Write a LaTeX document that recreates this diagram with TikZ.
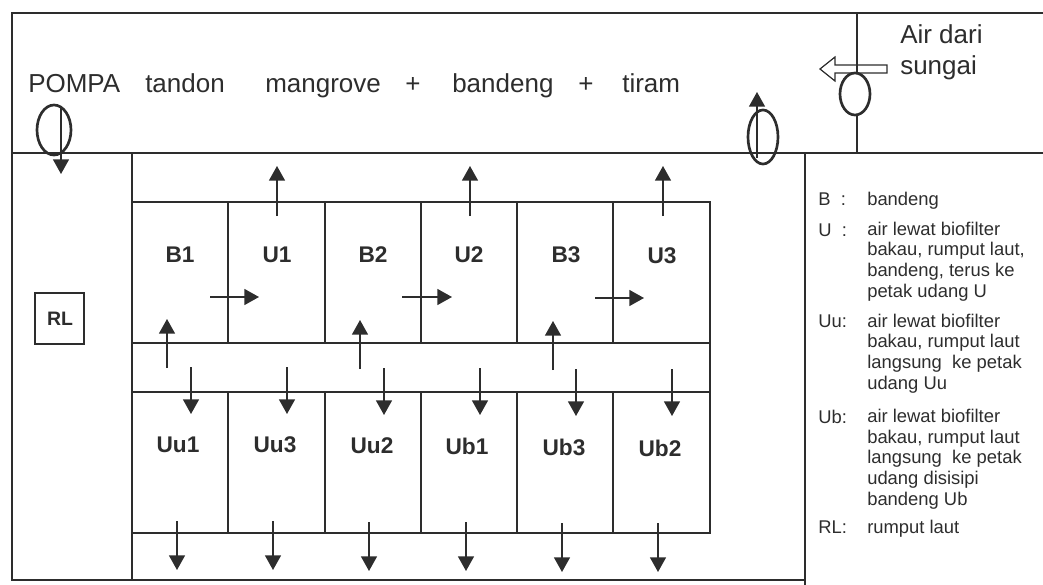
\documentclass[tikz,border=0pt]{standalone}
\usepackage{fontspec}
\setmainfont{Liberation Sans}
\usetikzlibrary{arrows.meta}
\definecolor{ink}{RGB}{45,45,45}
\tikzset{
  frame/.style={draw=ink,line width=0.9pt},
  pond/.style={draw=ink,line width=1.9pt},
  flow/.style={draw=ink,line width=1.1pt,-{Triangle[length=11pt,width=12pt]}},
  pump/.style={draw=ink,line width=2pt},
  maintext/.style={text=ink,font=\fontsize{19.5}{23}\selectfont,inner sep=0pt},
  pondlabel/.style={text=ink,font=\fontsize{17}{20}\selectfont\bfseries,inner sep=0pt},
  keytext/.style={text=ink,font=\fontsize{13.8}{15.4}\selectfont,inner sep=0pt,align=left},
}
\begin{document}
\begin{tikzpicture}[x=0.75pt,y=0.75pt,yscale=-1,xscale=1]
\useasboundingbox (0,0) rectangle (1043,585);

%Straight Lines [id:frame]
\draw [frame] (1043,13) -- (12,13) -- (12,580) -- (805,580) ;
\draw [frame] (12,153) -- (1043,153) ;
\draw [frame] (132,153) -- (132,580) ;
\draw [frame] (805,153) -- (805,585) ;
\draw [frame] (857,13) -- (857,153) ;

%Shape: Rectangle [id:upper row]
\draw [pond] (132,202) rectangle (710,343) ;
\draw [pond] (228,202) -- (228,343) (325,202) -- (325,343) (421,202) -- (421,343) (517,202) -- (517,343) (613,202) -- (613,343) ;
%Straight Lines [id:corridor side]
\draw [frame] (710,343) -- (710,392) ;
%Shape: Rectangle [id:lower row]
\draw [pond] (132,392) rectangle (710,533) ;
\draw [pond] (228,392) -- (228,533) (325,392) -- (325,533) (421,392) -- (421,533) (517,392) -- (517,533) (613,392) -- (613,533) ;

%Shape: Rectangle [id:rl box]
\draw [frame] (35,293) rectangle (84,344) ;

%Shape: Ellipse [id:pompa]
\draw [pump] (54,130) ellipse (17 and 25) ;
\draw [flow] (61,108) -- (61,174) ;
%Shape: Ellipse [id:outlet]
\draw [pump] (763,137) ellipse (15 and 27) ;
\draw [flow] (757,158) -- (757,92) ;
%Shape: Ellipse [id:inlet]
\draw [pump,fill=white] (855,94) ellipse (15 and 21) ;
%Shape: Hollow Arrow [id:river]
\draw [draw=ink,line width=0.9pt] (887,65) -- (835,65) -- (835,57) -- (820,69) -- (835,81) -- (835,73) -- (887,73) -- cycle ;

%Straight Lines [id:out of U]
\draw [flow] (277,216) -- (277,166) ;
\draw [flow] (470,216) -- (470,166) ;
\draw [flow] (663,216) -- (663,166) ;
%Straight Lines [id:B to U]
\draw [flow] (210,297) -- (259,297) ;
\draw [flow] (402,297) -- (452,297) ;
\draw [flow] (595,298) -- (644,298) ;
%Straight Lines [id:into B]
\draw [flow] (167,368) -- (167,319) ;
\draw [flow] (360,369) -- (360,320) ;
\draw [flow] (553,370) -- (553,321) ;
%Straight Lines [id:into lower]
\draw [flow] (191,367) -- (191,414) ;
\draw [flow] (287,367) -- (287,414) ;
\draw [flow] (384,368) -- (384,415) ;
\draw [flow] (480,368) -- (480,415) ;
\draw [flow] (576,369) -- (576,416) ;
\draw [flow] (672,369) -- (672,416) ;
%Straight Lines [id:out of lower]
\draw [flow] (177,521) -- (177,570) ;
\draw [flow] (273,521) -- (273,570) ;
\draw [flow] (369,522) -- (369,571) ;
\draw [flow] (466,522) -- (466,571) ;
\draw [flow] (562,523) -- (562,572) ;
\draw [flow] (658,523) -- (658,572) ;

% Text Node
\draw (28,93) node [maintext,anchor=base west] (pompa) {POMPA};
% Text Node
\draw (145,93) node [maintext,anchor=base west] (tandon) {tandon};
% Text Node
\draw (265,93) node [maintext,anchor=base west] (mangrove) {mangrove};
% Text Node
\draw (413,93) node [maintext,anchor=base] (plusa) {+};
% Text Node
\draw (452,93) node [maintext,anchor=base west] (bandeng) {bandeng};
% Text Node
\draw (586,93) node [maintext,anchor=base] (plusb) {+};
% Text Node
\draw (622,93) node [maintext,anchor=base west] (tiram) {tiram};
% Text Node
\draw (900,44) node [maintext,anchor=base west] (airdari) {Air dari};
% Text Node
\draw (900,75) node [maintext,anchor=base west] (sungai) {sungai};

% Text Node
\draw (180,262) node [pondlabel,anchor=base] (b1) {B1};
% Text Node
\draw (277,262) node [pondlabel,anchor=base] (u1) {U1};
% Text Node
\draw (373,262) node [pondlabel,anchor=base] (b2) {B2};
% Text Node
\draw (469,262) node [pondlabel,anchor=base] (u2) {U2};
% Text Node
\draw (566,262) node [pondlabel,anchor=base] (b3) {B3};
% Text Node
\draw (662,263) node [pondlabel,anchor=base] (u3) {U3};
% Text Node
\draw (178,452) node [pondlabel,anchor=base] (uu1) {Uu1};
% Text Node
\draw (275,452) node [pondlabel,anchor=base] (uu3) {Uu3};
% Text Node
\draw (372,453) node [pondlabel,anchor=base] (uu2) {Uu2};
% Text Node
\draw (467,454) node [pondlabel,anchor=base] (ub1) {Ub1};
% Text Node
\draw (564,455) node [pondlabel,anchor=base] (ub3) {Ub3};
% Text Node
\draw (660,456) node [pondlabel,anchor=base] (ub2) {Ub2};
% Text Node
\draw (60,319) node [text=ink,font=\fontsize{14.6}{17}\selectfont\bfseries,inner sep=0pt] (rl) {RL};

% Text Node
\draw (818,205) node [keytext,anchor=base west] (keyb) {B\ \ :};
\draw (867,205) node [keytext,anchor=base west] (txtb) {bandeng};
% Text Node
\draw (818,236) node [keytext,anchor=base west] (keyu) {U\ \ :};
\draw (867,297) node [keytext,anchor=base west] (txtu) {air lewat biofilter\\bakau, rumput laut,\\bandeng, terus ke\\petak udang U};
% Text Node
\draw (818,327) node [keytext,anchor=base west] (keyuu) {Uu:};
\draw (867,389) node [keytext,anchor=base west] (txtuu) {air lewat biofilter\\bakau, rumput laut\\langsung\ \ ke petak\\udang Uu};
% Text Node
\draw (818,423) node [keytext,anchor=base west] (keyub) {Ub:};
\draw (867,505) node [keytext,anchor=base west] (txtub) {air lewat biofilter\\bakau, rumput laut\\langsung\ \ ke petak\\udang disisipi\\bandeng Ub};
% Text Node
\draw (818,533) node [keytext,anchor=base west] (keyrl) {RL:};
\draw (867,533) node [keytext,anchor=base west] (txtrl) {rumput laut};

\end{tikzpicture}
\end{document}
